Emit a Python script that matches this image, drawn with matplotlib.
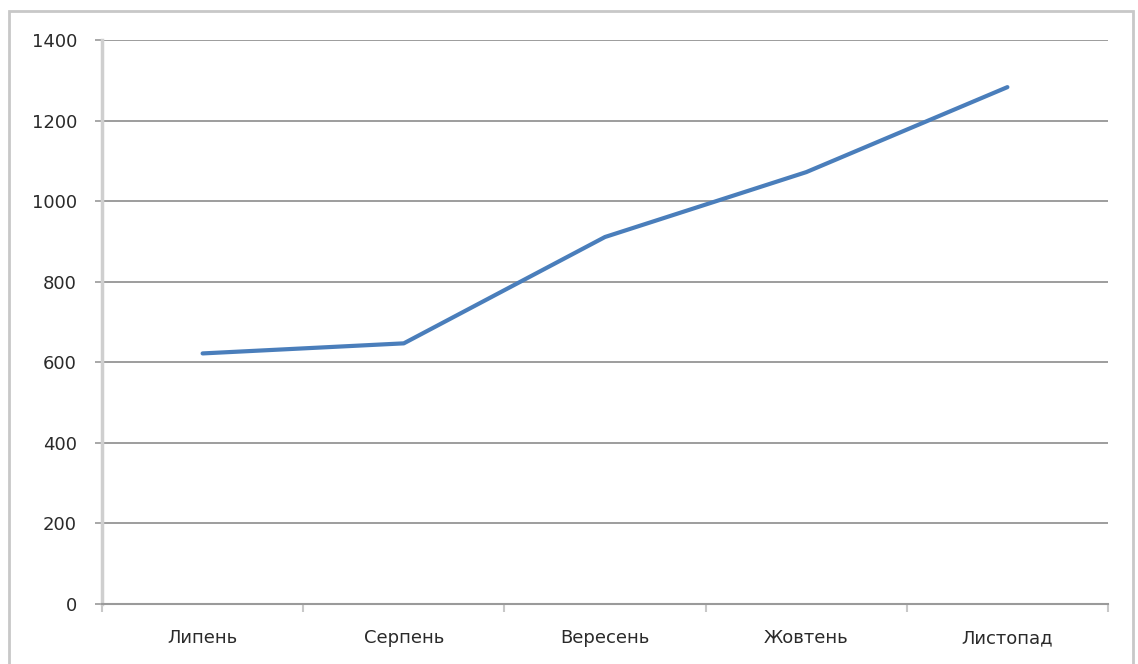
import matplotlib.pyplot as plt
from matplotlib.patches import Rectangle
import numpy as np

months = ["Липень", "Серпень", "Вересень", "Жовтень", "Листопад"]
values = [622, 647, 911, 1072, 1283]
y_ticks = [0, 200, 400, 600, 800, 1000, 1200, 1400]

fig = plt.figure(figsize=(11.38, 6.64), dpi=100)
ax = fig.add_axes([102 / 1138, 1 - 604 / 664, (1108 - 102) / 1138, (604 - 40) / 664])

# outer chart frame
frame = Rectangle((9 / 1138, -0.05), (1133 - 9) / 1138, 1.05 - 11 / 664,
                  transform=fig.transFigure, fill=False, edgecolor="#c8c8c8",
                  linewidth=2, zorder=0)
fig.patches.append(frame)

x = np.arange(len(months))
ax.plot(x, values, color="#4a7ebb", linewidth=3, solid_capstyle="round", zorder=3)

ax.set_xlim(-0.5, len(months) - 0.5)
ax.set_ylim(0, 1400)
ax.set_yticks(y_ticks)
ax.set_yticklabels([str(v) for v in y_ticks])
ax.set_xticks(x)
ax.set_xticklabels(months)
ax.set_xticks(np.arange(len(months) + 1) - 0.5, minor=True)

for v in y_ticks[1:]:
    ax.axhline(v, color="#8c8c8c", linewidth=1.2, zorder=1)

for side in ["top", "right"]:
    ax.spines[side].set_visible(False)
ax.spines["left"].set_color("#cfcfcf")
ax.spines["left"].set_linewidth(2.5)
ax.spines["bottom"].set_color("#9a9a9a")
ax.spines["bottom"].set_linewidth(1.5)

ax.tick_params(axis="y", length=5, width=1.2, color="#9a9a9a", pad=13,
               labelsize=13, labelcolor="#2a2a2a")
ax.tick_params(axis="x", which="major", length=0, pad=18,
               labelsize=13, labelcolor="#2a2a2a")
ax.tick_params(axis="x", which="minor", length=6, width=1.5, color="#c8c8c8")

plt.savefig("out.png", dpi=100)
